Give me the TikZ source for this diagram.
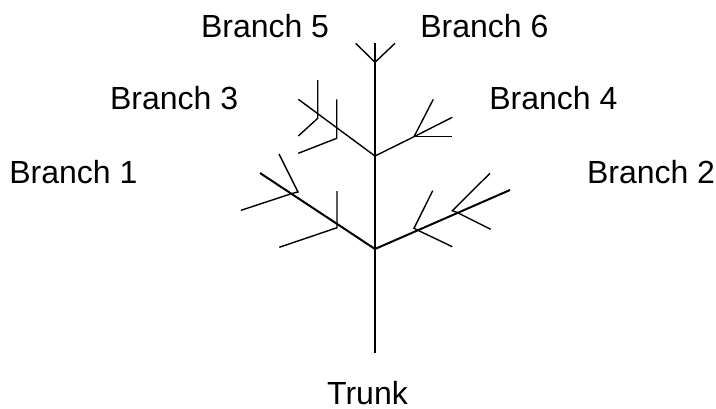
\documentclass[tikz,border=0pt]{standalone}
\usepackage{fontspec}
\setmainfont{Liberation Sans}
\begin{document}
\begin{tikzpicture}[x=1pt,y=-1pt,
  lbl/.style={inner sep=0pt,outer sep=0pt,font=\fontsize{32}{36}\selectfont},
  main/.style={line width=2pt,line join=miter},
  upper/.style={line width=1.4pt},
  twig/.style={line width=1.4pt}]
\useasboundingbox (0,0) rectangle (716,408);
% labels
\node[lbl,anchor=base west] (b5) at (201,37.3) {Branch 5};
\node[lbl,anchor=base west] (b6) at (420.4,37.3) {Branch 6};
\node[lbl,anchor=base east] (b3) at (238.1,109) {Branch 3};
\node[lbl,anchor=base west] (b4) at (489.4,109) {Branch 4};
\node[lbl,anchor=base west] (b1) at (9.4,183.3) {Branch 1};
\node[lbl,anchor=base west] (b2) at (587,183.3) {Branch 2};
\node[lbl,anchor=base] (tr) at (367.5,404.5) {Trunk};
% key points
\coordinate (bot) at (375,352.7);
\coordinate (top) at (375,43.3);
\coordinate (A) at (375,249);
\coordinate (B) at (375,156);
\coordinate (C) at (375,62.3);
% trunk
\draw[main] (bot) -- (top);
% top fork (Branch 5 / 6)
\coordinate (t5) at (355.7,43.3);
\coordinate (t6) at (395,43.3);
\draw[twig] (t5) -- (C) -- (t6);
% Branch 1
\coordinate (e1) at (260,173);
\draw[main] (A) -- (e1);
\coordinate (n1a) at (292,193.5);
\coordinate (k1a) at (298,192);
\draw[twig] (241,210.3) coordinate (l1a) -- (n1a) -- (k1a) -- (279,154);
\coordinate (v1b) at (337,191);
\coordinate (n1b) at (337,227.7);
\draw[twig] (v1b) -- (n1b) -- (279.3,247.3);
% Branch 2
\coordinate (e2) at (510,190);
\draw[main] (A) -- (e2);
\coordinate (n2a) at (414,228.3);
\coordinate (k2a) at (417.3,230);
\draw[twig] (432.7,190.7) -- (n2a) -- (k2a) -- (452.3,246.7);
\coordinate (n2b) at (452.3,210.7);
\coordinate (k2b) at (456.7,212.3);
\draw[twig] (490,173.3) -- (n2b) -- (k2b) -- (490.7,229.3);
% Branch 3
\coordinate (e3) at (298.3,99.3);
\draw[upper] (B) -- (e3);
\draw[twig] (317.7,80) -- (317.7,118.3) -- (298.3,136);
\draw[twig] (336.7,99.3) -- (336.7,138.3) -- (298.3,153.3);
% Branch 4
\coordinate (e4) at (414,136.7);
\draw[upper] (B) -- (e4);
\draw[twig] (e4) -- (433.3,99.3);
\draw[twig] (e4) -- (452.3,117.3);
\draw[twig] (e4) -- (452.3,136.7);
\end{tikzpicture}
\end{document}
